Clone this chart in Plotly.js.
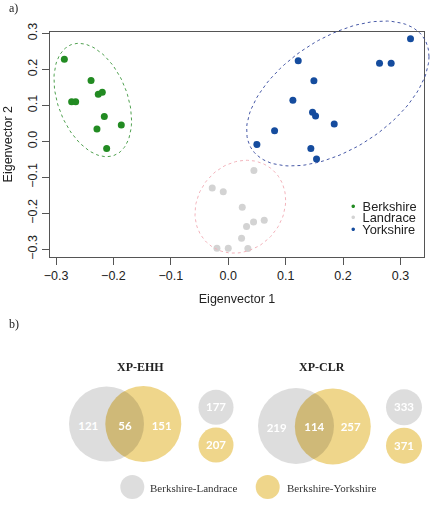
<!DOCTYPE html>
<html><head><meta charset="utf-8">
<script src="https://cdn.plot.ly/plotly-3.0.1.min.js"></script>
<style>
html,body{margin:0;padding:0;background:#fff;}
#chart{width:434px;height:513px;}
.traceyelvenn{mix-blend-mode:multiply;}
</style>
</head><body><div id="chart"></div>
<script>
// ---------- Data: panel a) PCA ----------
const breeds = ['Berkshire', 'Landrace', 'Yorkshire'];
const berkshireX = [-0.2855, -0.2390, -0.2264, -0.2194, -0.2728, -0.2658, -0.2159, -0.1863, -0.2287, -0.2118];
const berkshireY = [0.228, 0.169, 0.131, 0.136, 0.110, 0.110, 0.069, 0.045, 0.034, -0.020];
const landraceX = [0.0447, -0.0279, -0.0087, 0.0244, 0.0627, 0.0441, 0.0319, 0.0232, -0.0197, 0.0000, 0.0342];
const landraceY = [-0.081, -0.130, -0.140, -0.183, -0.219, -0.224, -0.237, -0.269, -0.297, -0.297, -0.298];
const yorkshireX = [0.3175, 0.1219, 0.2635, 0.2838, 0.1492, 0.1126, 0.1468, 0.1521, 0.1846, 0.0807, 0.0499, 0.1439, 0.1538];
const yorkshireY = [0.285, 0.224, 0.217, 0.217, 0.168, 0.114, 0.081, 0.070, 0.048, 0.029, -0.009, -0.020, -0.049];
// group ellipses: centre, half-extent in x and y, correlation
const ellipseCx = [-0.236, 0.021, 0.1908];
const ellipseCy = [0.1147, -0.1817, 0.1328];
const ellipseRx = [0.0676, 0.079, 0.1589];
const ellipseRy = [0.1575, 0.129, 0.2014];
const ellipseRho = [-0.36, 0.14, 0.51];
const tickVals = [-0.3, -0.2, -0.1, 0.0, 0.1, 0.2, 0.3];
const tickText = ['\u22120.3', '\u22120.2', '\u22120.1', '0.0', '0.1', '0.2', '0.3'];
const xTitle = 'Eigenvector 1';
const yTitle = 'Eigenvector 2';

// ---------- Data: panel b) Venn ----------
const vennTitles = ['XP-EHH', 'XP-CLR'];
const ehhCounts = [121, 56, 151];   // BL only, shared, BY only
const ehhTotals = [177, 207];       // BL, BY
const clrCounts = [219, 114, 257];
const clrTotals = [333, 371];
const comparisons = ['Berkshire-Landrace', 'Berkshire-Yorkshire'];

// ---------- Styles / geometry ----------
const W = 434, H = 513;
const box = {l: 50, r: 424, t: 31.7, b: 256.7};
const xr = [-0.3105, 0.3410], yr = [-0.3206, 0.3045];
const ptColors = ['#228b22', '#d3d3d3', '#154c9e'];
const ellColors = ['#4fa04f', '#f2b3bb', '#4658a6'];
const grayC = '#cfcfcf', yelC = '#e8c45a';
const px = v => v / W, py = v => 1 - v / H;

const xs = (xr[1] - xr[0]) / (box.r - box.l);
const ys = (yr[1] - yr[0]) / (box.b - box.t);
const xrFull = [xr[0] - box.l * xs, xr[1] + (W - box.r) * xs];
const yrFull = [yr[0] - (H - box.b) * ys, yr[1] + box.t * ys];

const traces = [];
const groupsX = [berkshireX, landraceX, yorkshireX];
const groupsY = [berkshireY, landraceY, yorkshireY];
for (let g = 0; g < 3; g++) {
  traces.push({type: 'scatter', mode: 'markers', x: groupsX[g], y: groupsY[g], name: breeds[g],
    xaxis: 'x', yaxis: 'y', showlegend: false, cliponaxis: false,
    marker: {color: ptColors[g], size: 7, line: {width: 0}}});
}
for (let g = 0; g < 3; g++) {
  const ex = [], ey = [];
  const n = 120, s = Math.sqrt(1 - ellipseRho[g] * ellipseRho[g]);
  for (let i = 0; i <= n; i++) {
    const t = 2 * Math.PI * i / n;
    ex.push(ellipseCx[g] + ellipseRx[g] * Math.cos(t));
    ey.push(ellipseCy[g] + ellipseRy[g] * (ellipseRho[g] * Math.cos(t) + s * Math.sin(t)));
  }
  traces.push({type: 'scatter', mode: 'lines', x: ex, y: ey, xaxis: 'x3', yaxis: 'y3', showlegend: false,
    line: {color: ellColors[g], width: 1, dash: '3px,3px'}});
}

// Venn geometry (pixel coordinates on x2/y2)
const vennBig = [
  {g: [106.5, 424, 75], y: [143.3, 424, 76], lab: [[88.3, 427], [125, 427], [161.7, 427]], sm: [[216, 407.3, 35], [216, 445, 35]]},
  {g: [296, 426, 76], y: [332.8, 426.5, 76], lab: [[276.7, 429], [314.3, 428.3], [350.7, 428.3]], sm: [[404, 407.3, 36], [404, 445.7, 36]]}
];
const legendCircles = [[132.3, 487, 24], [267.7, 487, 24]];
const counts = [ehhCounts, clrCounts], totals = [ehhTotals, clrTotals];

const gx = [], gy = [], gs = [], yx = [], yy = [], ysz = [];
vennBig.forEach(v => {
  gx.push(v.g[0], v.sm[0][0]); gy.push(v.g[1], v.sm[0][1]); gs.push(v.g[2], v.sm[0][2]);
  yx.push(v.y[0], v.sm[1][0]); yy.push(v.y[1], v.sm[1][1]); ysz.push(v.y[2], v.sm[1][2]);
});
gx.push(legendCircles[0][0]); gy.push(legendCircles[0][1]); gs.push(legendCircles[0][2]);
yx.push(legendCircles[1][0]); yy.push(legendCircles[1][1]); ysz.push(legendCircles[1][2]);
traces.push({type: 'scatter', mode: 'markers', x: gx, y: gy, xaxis: 'x2', yaxis: 'y2', showlegend: false, uid: 'grayvenn',
  marker: {color: grayC, size: gs, line: {width: 0}}, cliponaxis: false});
traces.push({type: 'scatter', mode: 'markers', x: yx, y: yy, xaxis: 'x2', yaxis: 'y2', showlegend: false, uid: 'yelvenn',
  marker: {color: yelC, size: ysz, line: {width: 0}}, cliponaxis: false});
const tx = [], ty = [], tt = [];
vennBig.forEach((v, i) => {
  v.lab.forEach((p, j) => { tx.push(p[0]); ty.push(p[1]); tt.push(String(counts[i][j])); });
  v.sm.forEach((p, j) => { tx.push(p[0]); ty.push(p[1] + 1); tt.push(String(totals[i][j])); });
});
traces.push({type: 'scatter', mode: 'text', x: tx, y: ty, text: tt, xaxis: 'x2', yaxis: 'y2', showlegend: false,
  cliponaxis: false, textposition: 'middle center',
  textfont: {family: 'Lato, sans-serif', size: 11.5, color: '#ffffff', weight: 'bold'}});

const axFont = {family: 'Liberation Sans, Arial, sans-serif', size: 12.5, color: '#222'};
const annotations = [
  {text: 'a)', x: px(7), y: py(8), xanchor: 'left', yanchor: 'middle'},
  {text: 'b)', x: px(7), y: py(324), xanchor: 'left', yanchor: 'middle'}
].map(a => Object.assign(a, {xref: 'paper', yref: 'paper', showarrow: false,
  font: {family: 'Liberation Serif, Times New Roman, serif', size: 12, color: '#222'}}));
const legY = [206, 217.7, 229];
breeds.forEach((b, i) => annotations.push({xref: 'paper', yref: 'paper', x: px(349.5), y: py(legY[i]),
  xanchor: 'left', yanchor: 'middle', showarrow: false, borderpad: 0,
  text: '<span style="color:' + ptColors[i] + '">\u2022</span>  ' + b,
  font: {family: 'Liberation Sans, Arial, sans-serif', size: 12.8, color: '#222'}}));
const titleX = [140, 321.7];
vennTitles.forEach((t, i) => annotations.push({xref: 'paper', yref: 'paper', x: px(titleX[i]), y: py(366.7),
  xanchor: 'center', yanchor: 'middle', showarrow: false, text: t,
  font: {family: 'Liberation Serif, Times New Roman, serif', size: 12, color: '#222', weight: 'bold'}}));
const legTextX = [150, 286.7];
comparisons.forEach((c, i) => annotations.push({xref: 'paper', yref: 'paper', x: px(legTextX[i] - 1), y: py(487.5),
  xanchor: 'left', yanchor: 'middle', showarrow: false, text: c, borderpad: 0,
  font: {family: 'Liberation Serif, Times New Roman, serif', size: 11, color: '#333'}}));

const mainAxis = {showgrid: false, zeroline: false, showline: true, mirror: true, linecolor: '#555', linewidth: 1,
  ticks: 'outside', ticklen: 7, tickcolor: '#555', tickwidth: 1, tickmode: 'array', tickvals: tickVals, ticktext: tickText,
  tickfont: axFont, autorange: false, fixedrange: true};
const hidden = {visible: false, showgrid: false, zeroline: false, autorange: false, fixedrange: true};

const layout = {
  width: W, height: H, margin: {l: 0, r: 0, t: 0, b: 0},
  paper_bgcolor: '#ffffff', plot_bgcolor: 'rgba(0,0,0,0)', showlegend: false,
  xaxis: Object.assign({}, mainAxis, {domain: [px(box.l), px(box.r)], range: xr, anchor: 'y',
    title: {text: xTitle, font: axFont, standoff: 12}}),
  yaxis: Object.assign({}, mainAxis, {domain: [py(box.b), py(box.t)], range: yr, anchor: 'x', tickangle: -90,
    title: {text: yTitle, font: axFont, standoff: 10}}),
  xaxis2: Object.assign({}, hidden, {domain: [0, 1], range: [0, W], anchor: 'y2'}),
  yaxis2: Object.assign({}, hidden, {domain: [0, 1], range: [H, 0], anchor: 'x2'}),
  xaxis3: Object.assign({}, hidden, {domain: [0, 1], range: xrFull, anchor: 'y3'}),
  yaxis3: Object.assign({}, hidden, {domain: [0, 1], range: yrFull, anchor: 'x3'}),
  annotations: annotations
};
Plotly.newPlot('chart', traces, layout, {staticPlot: true, displayModeBar: false});
</script>
</body></html>
